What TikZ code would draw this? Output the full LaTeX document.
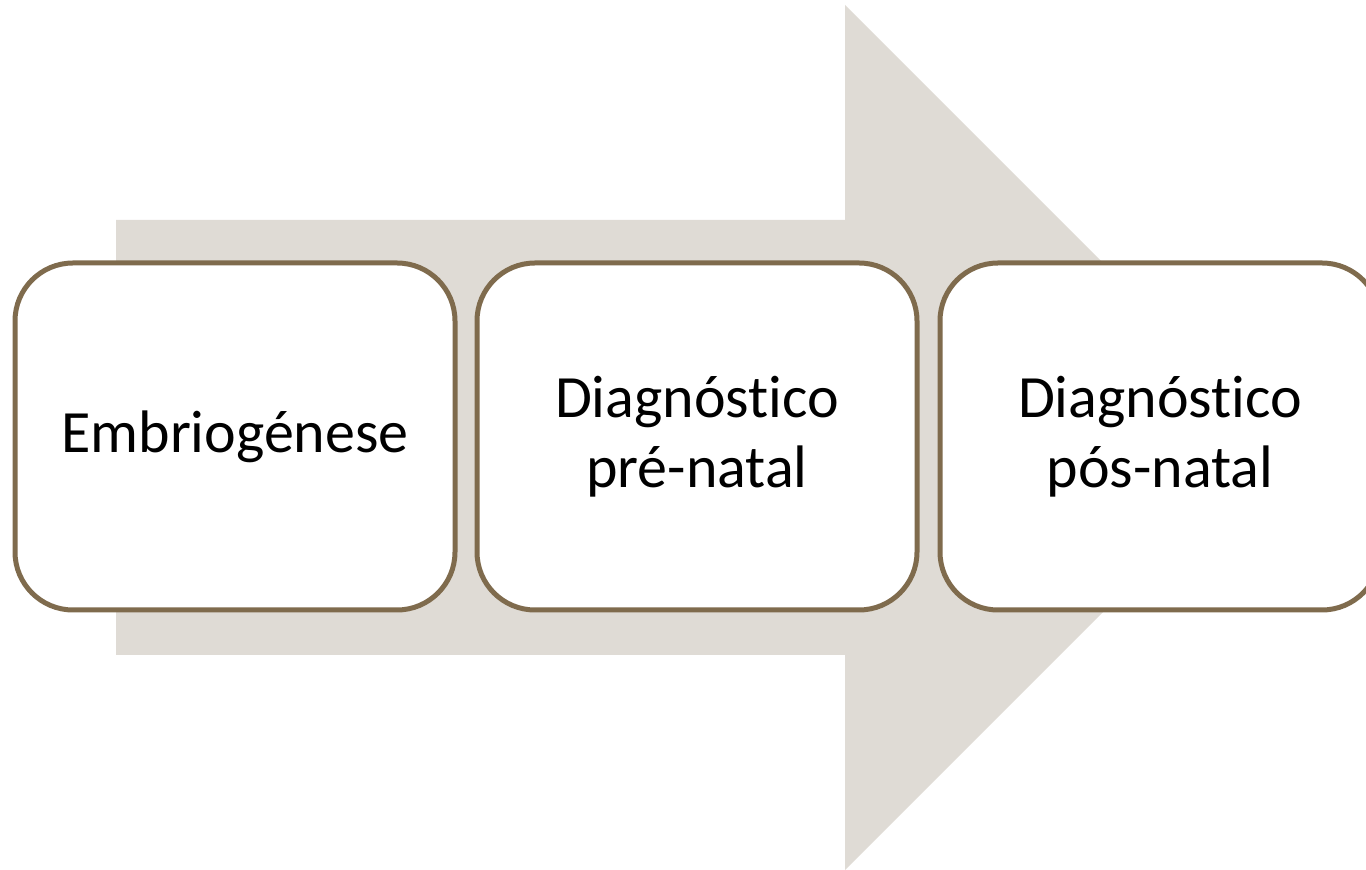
\documentclass[tikz,border=0pt]{standalone}
\usepackage{fontspec}
\setmainfont{Carlito}[RawFeature={-liga;-dlig;-clig}]
\definecolor{arrowfill}{HTML}{DFDBD5}
\definecolor{boxline}{HTML}{7F6B4D}
\begin{document}
\begin{tikzpicture}[x=0.5pt,y=-0.5pt,
  stagebox/.style={draw=boxline, line width=2.5pt, fill=white, rounded corners=29pt,
    minimum width=220pt, minimum height=173.5pt, inner sep=0pt, align=center,
    font=\fontsize{30pt}{35pt}\selectfont, text=black}]
\useasboundingbox (0,0) rectangle (1366,870);
\clip (0,0) rectangle (1366,870);
\fill[arrowfill] (116,220) -- (845,220) -- (845,5) -- (1277.5,437.5) -- (845,870) -- (845,655) -- (116,655) -- cycle;
\node[stagebox] (b1) at (235,436.5) {Embriogénese};
\node[stagebox] (b2) at (697,436.5) {Diagnóstico\\pré-natal};
\node[stagebox] (b3) at (1160,436.5) {Diagnóstico\\pós-natal};
\end{tikzpicture}
\end{document}
